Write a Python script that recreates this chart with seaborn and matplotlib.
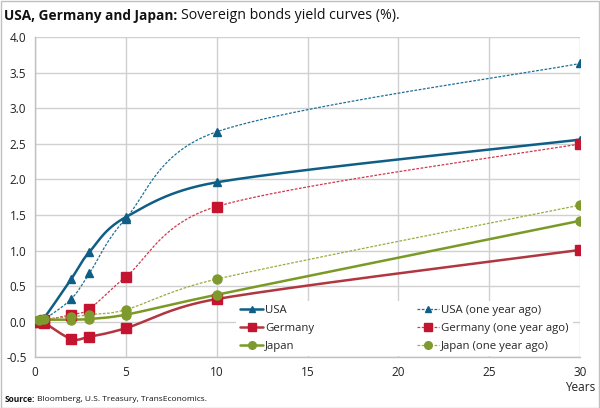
import numpy as np
import matplotlib
matplotlib.use("Agg")
import matplotlib.pyplot as plt
from matplotlib.lines import Line2D
from matplotlib.patches import Rectangle
import seaborn as sns

# maturities in years
maturity = [0.25, 0.5, 2, 3, 5, 10, 30]

usa = [0.02, 0.05, 0.60, 0.98, 1.47, 1.96, 2.56]
usa_ago = [0.01, 0.03, 0.32, 0.68, 1.45, 2.67, 3.63]
germany = [0.00, -0.01, -0.24, -0.21, -0.09, 0.32, 1.01]
germany_ago = [0.00, 0.02, 0.10, 0.18, 0.63, 1.62, 2.50]
japan = [0.02, 0.03, 0.03, 0.04, 0.10, 0.38, 1.42]
japan_ago = [0.03, 0.04, 0.07, 0.10, 0.17, 0.60, 1.64]

y_ticks = [-0.5, 0.0, 0.5, 1.0, 1.5, 2.0, 2.5, 3.0, 3.5, 4.0]
x_ticks = [0, 5, 10, 15, 20, 25, 30]

# rough pixel size of one unit on each axis, smoothing is done in screen space
PX_X, PX_Y = 18.2, 71.3


def smooth(x, y, n=50):
    # excel-like smoothed line: bezier with (P2-P0)/6 handles,
    # each handle capped at half of its segment length
    p = np.column_stack([np.asarray(x) * PX_X, np.asarray(y) * PX_Y]).astype(float)
    m = len(p)
    t = np.linspace(0, 1, n)[:, None]
    out = []
    for i in range(m - 1):
        p0, p1 = p[i], p[i + 1]
        L = np.hypot(*(p1 - p0))
        h0 = (p[i + 1] - p[max(i - 1, 0)]) / 6
        h1 = (p[min(i + 2, m - 1)] - p[i]) / 6
        for h in (h0, h1):
            hl = np.hypot(*h)
            if hl > L / 2:
                h *= (L / 2) / hl
        c0 = p0 + h0
        c1 = p1 - h1
        seg = ((1 - t) ** 3) * p0 + 3 * ((1 - t) ** 2) * t * c0 + 3 * (1 - t) * t ** 2 * c1 + t ** 3 * p1
        out.append(seg)
    out = np.vstack(out)
    return out[:, 0] / PX_X, out[:, 1] / PX_Y


sns.set_style("white")
plt.rcParams['font.family'] = ['Open Sans', 'DejaVu Sans']

fig = plt.figure(figsize=(6, 4.08), dpi=100)
ax = fig.add_axes([0.058, 0.124, 0.909, 0.785])

series = [
    # label, values, line colour, marker colour, marker, dashed
    ("USA", usa, "#0f5e85", "#0f5e85", "^", False),
    ("Germany", germany, "#b13640", "#c4142f", "s", False),
    ("Japan", japan, "#7a9a25", "#7f9a2c", "o", False),
    ("USA (one year ago)", usa_ago, "#1f6f96", "#0f5e85", "^", True),
    ("Germany (one year ago)", germany_ago, "#d0384c", "#c4142f", "s", True),
    ("Japan (one year ago)", japan_ago, "#9aab3c", "#7f9a2c", "o", True),
]

handles = []
for label, vals, lc, mc, mk, dashed in series:
    sx, sy = smooth(maturity, vals)
    if dashed:
        ls = (0, (2.2, 1.2))
        lw = 0.9
    else:
        ls = "-"
        lw = 1.8
    sns.lineplot(x=sx, y=sy, ax=ax, color=lc, lw=lw, linestyle=ls, sort=False, zorder=3)
    ms = 6.5 if mk != "^" else 6
    ax.plot(maturity, vals, linestyle="none", marker=mk, ms=ms, color=mc,
            markeredgecolor=mc, zorder=4)
    handles.append(Line2D([0], [0], color=lc, lw=lw, linestyle=ls, marker=mk,
                          ms=ms - 1, markerfacecolor=mc, markeredgecolor=mc, label=label))

ax.set_xlim(0, 30)
ax.set_ylim(-0.5, 4.0)
ax.set_xticks(x_ticks)
ax.set_yticks(y_ticks)
ax.set_yticklabels([f"{v:.1f}" for v in y_ticks])
ax.grid(True, color="#d0d0d0", lw=1)
ax.set_axisbelow(True)
for side in ["top", "right"]:
    ax.spines[side].set_visible(False)
for side in ["left", "bottom"]:
    ax.spines[side].set_color("#c0c0c0")
    ax.spines[side].set_linewidth(1)
ax.tick_params(axis="both", length=0, labelsize=8.5, colors="#222222", pad=6)
ax.set_xlabel("")
ax.set_ylabel("")

leg = ax.legend(handles=handles, ncol=2, loc="lower right", bbox_to_anchor=(0.986, 0.003),
                borderaxespad=0, fontsize=8.2, frameon=True, fancybox=False,
                handlelength=2.0, handletextpad=0.15, columnspacing=9.0,
                labelspacing=0.65, borderpad=0.35)
leg.get_frame().set_edgecolor("none")
leg.get_frame().set_facecolor("white")
leg.get_frame().set_alpha(1)

fig.text(0.967, 0.035, "Years", ha="center", va="bottom", fontsize=8.5, color="#222222")

t1 = fig.text(0.007, 0.962, "USA, Germany and Japan:", fontsize=9.8, fontweight="bold",
              ha="left", va="center", color="#111111")
fig.canvas.draw()
bb = t1.get_window_extent(fig.canvas.get_renderer())
x_next = (bb.x1 + 4) / fig.bbox.width
fig.text(x_next, 0.962, "Sovereign bonds yield curves (%).", fontsize=10.2,
         ha="left", va="center", color="#111111")
fig.text(0.007, 0.022, "Source:", fontsize=6, fontweight="bold", ha="left",
         va="center", color="#111111")
fig.text(0.061, 0.022, "Bloomberg, U.S. Treasury, TransEconomics.", fontsize=6,
         ha="left", va="center", color="#111111")

fig.patches.append(Rectangle((0.001, 0.001), 0.997, 0.997, transform=fig.transFigure,
                             fill=False, edgecolor="#c0c0c0", lw=1))

fig.savefig("out.png", dpi=100)
